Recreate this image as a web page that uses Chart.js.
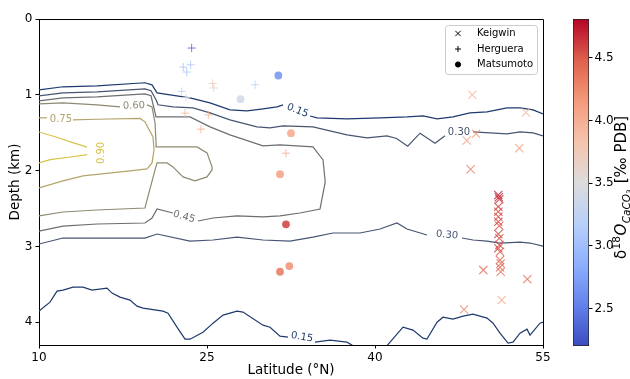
<!DOCTYPE html>
<html>
<head>
<meta charset="utf-8">
<script src="https://cdn.jsdelivr.net/npm/chart.js@4.4.1/dist/chart.umd.min.js"></script>
<style>
html,body{margin:0;padding:0;background:#fff;}
#wrap{position:relative;width:630px;height:379px;overflow:hidden;}
#main{position:absolute;left:0;top:0;width:630px;height:379px;}
#cbar{position:absolute;left:560px;top:0;width:70px;height:379px;}
</style>
</head>
<body>
<div id="wrap">
<canvas id="main" width="630" height="379"></canvas>
<canvas id="cbar" width="70" height="379"></canvas>
</div>
<script>
// ---------------- DATA ----------------
const latTicks = [10, 25, 40, 55];
const depthTicks = [0, 1, 2, 3, 4];
const cbarTicks = [2.5, 3.0, 3.5, 4.0, 4.5];
const d18oRange = [2.2, 4.81];

// Keigwin (x markers)
const keigwinLat   = [48.69, 53.48, 49.02, 48.19, 52.88, 48.54, 51.01, 51.05, 51.10, 51.01, 51.01, 51.01, 51.01, 51.10, 51.01, 51.10, 51.10, 51.01, 51.16, 51.16, 51.22, 51.16, 51.22, 49.67, 53.60, 51.31, 47.95];
const keigwinDepth = [1.00, 1.233, 1.515, 1.603, 1.704, 1.982, 2.321, 2.352, 2.378, 2.475, 2.541, 2.608, 2.674, 2.727, 2.836, 2.893, 2.982, 3.025, 3.070, 3.180, 3.224, 3.276, 3.334, 3.312, 3.431, 3.708, 3.831];
const keigwinD18O  = [3.95, 3.92, 4.15, 4.12, 4.15, 4.30, 4.72, 4.70, 4.65, 4.60, 4.55, 4.58, 4.60, 4.55, 4.60, 4.58, 4.55, 4.62, 4.50, 4.45, 4.42, 4.45, 4.40, 4.45, 4.42, 4.05, 4.25];

// Herguera (+ markers)
const hergueraLat   = [23.63, 22.88, 23.54, 23.19, 25.50, 25.60, 29.29, 22.74, 23.13, 23.04, 25.12, 24.46, 32.05];
const hergueraDepth = [0.383, 0.634, 0.604, 0.700, 0.850, 0.910, 0.867, 0.956, 1.035, 1.242, 1.264, 1.453, 1.770];
const hergueraD18O  = [2.35, 3.05, 3.10, 3.05, 3.70, 3.65, 3.20, 3.20, 3.45, 3.95, 3.95, 4.00, 4.00];

// Matsumoto (circles)
const matsumotoLat   = [31.37, 28.00, 32.50, 31.52, 32.05, 32.35, 31.52];
const matsumotoDepth = [0.745, 1.057, 1.506, 2.048, 2.708, 3.259, 3.334];
const matsumotoD18O  = [2.65, 3.40, 4.05, 4.10, 4.60, 4.20, 4.35];

// Contour lines [latitude, depth]
const c015TopA = [[10.0,0.934],[12.14,0.894],[15.18,0.881],[19.46,0.841],[20.09,0.868],[20.54,0.974],[21.70,1.000],[23.48,1.040],[25.27,1.106],[27.05,1.198],[28.57,1.211],[30.0,1.185],[31.25,1.159],[31.79,1.132]];
const c015TopB = [[34.20,1.279],[34.82,1.304],[37.50,1.317],[40.45,1.304],[42.86,1.291],[44.29,1.277],[45.54,1.317],[46.96,1.291],[48.48,1.238],[50.0,1.225],[51.79,1.172],[52.95,1.172],[54.11,1.198],[55.0,1.251]];
const c030TopA = [[10.0,1.013],[12.14,0.974],[15.18,0.960],[19.46,0.921],[20.0,0.947],[20.45,1.066],[20.63,1.132],[21.96,1.159],[23.75,1.172],[25.27,1.238],[27.05,1.330],[29.46,1.423],[30.63,1.436],[31.79,1.410],[34.46,1.423],[37.50,1.528],[39.29,1.568],[41.07,1.541],[41.93,1.576],[42.92,1.678],[44.02,1.506],[45.36,1.638],[46.25,1.541]];
const c030TopB = [[48.75,1.488],[50.27,1.502],[51.79,1.515],[52.95,1.488],[54.11,1.502],[55.0,1.541]];
const c045A = [[10.0,1.080],[12.14,1.040],[15.18,1.026],[19.46,0.987],[20.0,1.013],[20.45,1.291],[21.96,1.291],[23.48,1.291],[25.27,1.423],[27.05,1.528],[30.0,1.674],[31.52,1.660],[34.46,1.687],[35.36,1.859],[35.54,2.123],[35.54,2.162],[35.09,2.506],[33.30,2.559],[31.52,2.598],[30.0,2.611],[27.68,2.598],[25.54,2.625],[24.20,2.664]];
const c045B = [[21.96,2.559],[20.54,2.506],[20.09,2.625],[19.46,2.691],[15.18,2.704],[12.14,2.731],[10.0,2.797]];
const c060A = [[10.0,1.119],[12.14,1.106],[15.18,1.132],[17.23,1.159]];
const c060B = [[19.64,1.132],[20.09,1.159],[20.36,1.370],[20.45,1.634],[20.45,1.687],[21.96,1.687],[24.11,1.687],[25.0,1.766],[25.45,1.951],[25.45,1.991],[25.0,2.083],[23.93,2.136],[22.86,2.083],[21.96,1.951],[21.43,1.898],[20.54,1.898],[20.36,1.991],[19.46,2.493],[15.18,2.519],[12.14,2.546],[10.0,2.598]];
const c075A = [[10.0,1.303],[10.71,1.303]];
const c075B = [[13.04,1.330],[15.18,1.322],[19.02,1.312],[19.46,1.357],[20.18,1.555],[20.27,1.727],[20.09,1.898],[19.64,1.978],[18.13,2.004],[13.93,2.070],[12.14,2.136],[10.0,2.229]];
const c090A = [[10.0,1.49],[11.6,1.56],[12.8,1.62],[14.3,1.69]];
const c090B = [[14.3,1.79],[12.8,1.82],[11.0,1.855],[10.0,1.898]];
const c030BotA = [[10.0,2.968],[12.14,2.889],[15.18,2.889],[19.46,2.889],[20.54,2.836],[23.48,2.929],[25.54,2.915],[27.68,2.876],[30.0,2.915],[32.41,2.929],[34.46,2.876],[36.25,2.823],[38.66,2.823],[40.45,2.770],[41.96,2.691],[42.86,2.770],[44.64,2.849]];
const c030BotB = [[47.77,2.889],[48.75,2.915],[50.0,2.929],[51.16,2.955],[52.95,2.942],[53.84,2.955],[55.0,2.995]];
const c015BotA = [[10.0,3.853],[10.98,3.734],[11.61,3.589],[12.14,3.576],[13.04,3.536],[13.93,3.536],[14.73,3.576],[16.07,3.549],[16.52,3.615],[17.23,3.668],[18.13,3.708],[18.75,3.787],[19.29,3.814],[21.07,3.853],[21.52,3.880],[22.32,4.065],[23.04,4.223],[23.48,4.223],[24.64,4.131],[25.54,4.012],[26.43,3.906],[27.68,3.853],[28.21,3.866],[30.0,4.038],[30.63,4.065],[31.52,4.183],[32.23,4.197]];
const c015BotB = [[34.64,4.263],[35.98,4.237],[37.50,4.263],[38.39,4.34]];
const c015BotC = [[40.89,4.34],[42.5,4.065],[43.39,4.104],[44.29,4.210],[44.64,4.223],[45.54,3.999],[46.07,3.933],[46.96,3.959],[47.86,3.919],[48.75,3.893],[50.0,3.946],[50.54,4.012],[51.16,4.144],[51.88,4.276],[52.32,4.263],[52.95,4.144],[53.57,4.091],[53.84,4.170],[54.73,4.012],[55.0,3.999]];

const contourLevels = [0.15, 0.30, 0.45, 0.60, 0.75, 0.90];
const contourSegments = [
  [0.15, c015TopA], [0.15, c015TopB], [0.15, c015BotA], [0.15, c015BotB], [0.15, c015BotC],
  [0.30, c030TopA], [0.30, c030TopB], [0.30, c030BotA], [0.30, c030BotB],
  [0.45, c045A], [0.45, c045B],
  [0.60, c060A], [0.60, c060B],
  [0.75, c075A], [0.75, c075B],
  [0.90, c090A], [0.90, c090B]
];
// inline contour labels: [level, latitude, depth, angle]
const contourLabels = [
  [0.15, 33.08, 1.209, 22],
  [0.30, 47.50, 1.490, 0],
  [0.60, 18.48, 1.146, -2],
  [0.75, 11.96, 1.330, 0],
  [0.90, 15.54, 1.767, -90],
  [0.45, 22.95, 2.611, 16],
  [0.30, 46.43, 2.849, 5],
  [0.15, 33.48, 4.197, 10]
];

// ---------------- STYLE ----------------
const FONT = "'DejaVu Sans', 'Liberation Sans', sans-serif";
Chart.defaults.font.family = FONT;
Chart.defaults.color = '#000';

const levelColors = {0.15:'#1f3a6e', 0.30:'#475572', 0.45:'#6d6e70', 0.60:'#8f8a72', 0.75:'#b3a56a', 0.90:'#d9c24a'};

const cwStops = [[59,76,192],[98,130,234],[141,176,254],[184,208,249],[221,220,220],[245,196,173],[244,154,123],[222,96,77],[180,4,38]];
function coolwarmRGB(t){
  t = Math.max(0, Math.min(1, t));
  const s = t * (cwStops.length - 1);
  const i = Math.min(cwStops.length - 2, Math.floor(s));
  const f = s - i;
  const a = cwStops[i], b = cwStops[i+1];
  return [0,1,2].map(k => Math.round(a[k] + (b[k]-a[k]) * f));
}
function d18oColor(v, alpha){
  const t = (v - d18oRange[0]) / (d18oRange[1] - d18oRange[0]);
  const c = coolwarmRGB(t);
  return `rgba(${c[0]},${c[1]},${c[2]},${alpha})`;
}

const datasets = [];
datasets.push({
  label: 'Keigwin',
  data: keigwinLat.map((x,i)=>({x, y: keigwinDepth[i]})),
  pointStyle: 'crossRot', pointRadius: 5.8, pointBorderWidth: 1.1,
  borderColor: keigwinD18O.map(v=>d18oColor(v,0.8)),
  backgroundColor: 'rgba(0,0,0,0)',
  showLine: false, order: 1
});
datasets.push({
  label: 'Herguera',
  data: hergueraLat.map((x,i)=>({x, y: hergueraDepth[i]})),
  pointStyle: 'cross', pointRadius: 4.1, pointBorderWidth: 1.0,
  borderColor: hergueraD18O.map(v=>d18oColor(v,0.8)),
  backgroundColor: 'rgba(0,0,0,0)',
  showLine: false, order: 1
});
datasets.push({
  label: 'Matsumoto',
  data: matsumotoLat.map((x,i)=>({x, y: matsumotoDepth[i]})),
  pointStyle: 'circle', pointRadius: 3.9, pointBorderWidth: 0, borderWidth: 0,
  backgroundColor: matsumotoD18O.map(v=>d18oColor(v,0.85)),
  borderColor: 'rgba(0,0,0,0)',
  showLine: false, order: 1
});
contourSegments.forEach(([lev, seg]) => {
  datasets.push({
    label: 'c' + lev,
    data: seg.map(p=>({x:p[0], y:p[1]})),
    showLine: true, borderColor: levelColors[lev], borderWidth: 1.2,
    pointRadius: 0, fill: false, tension: 0, order: 2
  });
});

function alignPx(v){ return Math.round(v - 0.5) + 0.5; }

const framePlugin = {
  id: 'frame',
  afterDraw(chart){
    const {ctx, chartArea: ca} = chart;
    ctx.save();
    ctx.strokeStyle = '#000'; ctx.lineWidth = 1;
    ctx.beginPath();
    ctx.moveTo(alignPx(ca.left), alignPx(ca.top));
    ctx.lineTo(alignPx(ca.right), alignPx(ca.top));
    ctx.lineTo(alignPx(ca.right), alignPx(ca.bottom));
    ctx.stroke();
    ctx.restore();
  }
};

const contourLabelPlugin = {
  id: 'contourLabels',
  afterDatasetsDraw(chart){
    const {ctx, scales:{x, y}} = chart;
    ctx.save();
    ctx.font = `10px ${FONT}`;
    ctx.textAlign = 'center'; ctx.textBaseline = 'middle';
    contourLabels.forEach(([lev, lat, dep, ang]) => {
      ctx.save();
      ctx.translate(x.getPixelForValue(lat), y.getPixelForValue(dep));
      ctx.rotate(ang * Math.PI / 180);
      ctx.fillStyle = levelColors[lev];
      ctx.fillText(lev.toFixed(2), 0, 0);
      ctx.restore();
    });
    ctx.restore();
  }
};

const legendPlugin = {
  id: 'inlineLegend',
  afterDraw(chart){
    const {ctx, chartArea: ca} = chart;
    const w = 92, h = 49;
    const x0 = ca.right - 6 - w, y0 = ca.top + 6;
    ctx.save();
    ctx.beginPath();
    if (ctx.roundRect) ctx.roundRect(x0 + 0.5, y0 + 0.5, w, h, 3); else ctx.rect(x0+0.5, y0+0.5, w, h);
    ctx.fillStyle = 'rgba(255,255,255,0.8)';
    ctx.fill();
    ctx.strokeStyle = '#cccccc'; ctx.lineWidth = 1;
    ctx.stroke();
    const entries = [['Keigwin','crossRot',3.8],['Herguera','cross',3.0],['Matsumoto','circle',2.6]];
    ctx.font = `10px ${FONT}`;
    ctx.textBaseline = 'middle'; ctx.textAlign = 'left';
    entries.forEach(([name, style, r], i) => {
      const yy = y0 + 8.5 + i * 15.5;
      ctx.fillStyle = '#000'; ctx.strokeStyle = '#000'; ctx.lineWidth = 1;
      Chart.helpers.drawPoint(ctx, {pointStyle: style, radius: r, rotation: 0, borderWidth: 1}, x0 + 13, yy);
      ctx.fillStyle = '#000';
      ctx.fillText(name, x0 + 32, yy);
    });
    ctx.restore();
  }
};

const gridOpts = {display: true, drawOnChartArea: false, drawTicks: true, tickLength: 3.5, color: '#000', lineWidth: 1};

new Chart(document.getElementById('main'), {
  type: 'scatter',
  data: {datasets},
  options: {
    responsive: false, animation: false, events: [],
    layout: {padding: {left: 0, right: 87, top: 19, bottom: 0}},
    plugins: {legend: {display: false}, tooltip: {enabled: false}},
    scales: {
      x: {
        type: 'linear', min: latTicks[0], max: latTicks[latTicks.length-1],
        afterBuildTicks: s => { s.ticks = latTicks.map(v=>({value: v})); },
        afterFit: s => { s.height = 34; },
        ticks: {font: {size: 12}, padding: 2, maxRotation: 0, color: '#000'},
        grid: gridOpts,
        border: {display: true, color: '#000', width: 1},
        title: {display: true, text: 'Latitude (°N)', font: {size: 13.5}, color: '#000', padding: {top: 0, bottom: 0}}
      },
      y: {
        type: 'linear', reverse: true, min: 0, max: 4.3,
        afterBuildTicks: s => { s.ticks = depthTicks.map(v=>({value: v})); },
        afterFit: s => { s.width = 39; },
        ticks: {font: {size: 12}, padding: 3, color: '#000', callback: v => String(v)},
        grid: gridOpts,
        border: {display: true, color: '#000', width: 1},
        title: {display: true, text: 'Depth (km)', font: {size: 13.5}, color: '#000', padding: {top: 7, bottom: 0}}
      }
    }
  },
  plugins: [contourLabelPlugin, framePlugin, legendPlugin]
});

// ---------------- COLORBAR ----------------
const cbarTitlePlugin = {
  id: 'cbarTitle',
  afterDraw(chart){
    const {ctx, chartArea: ca} = chart;
    const pieces = [
      {t: 'δ', size: 15, dy: 0, it: false, gap: 0.5},
      {t: '18', size: 10.5, dy: -6.5, it: false, gap: 0.5},
      {t: 'O', size: 15, dy: 0, it: true, gap: 0.5},
      {t: 'CaCO', size: 10.5, dy: 3.5, it: true, gap: 0},
      {t: '3', size: 7.5, dy: 6, it: false, gap: 1},
      {t: ' [‰ PDB]', size: 15, dy: 0, it: false, gap: 0}
    ];
    ctx.save();
    let total = 0;
    pieces.forEach(p => { ctx.font = `${p.it?'italic ':''}${p.size}px ${FONT}`; p.w = ctx.measureText(p.t).width + p.gap; total += p.w; });
    const cx = 60.5, cy = (ca.top + ca.bottom) / 2 + 5;
    ctx.translate(cx, cy);
    ctx.rotate(-Math.PI / 2);
    ctx.fillStyle = '#000';
    ctx.textBaseline = 'alphabetic'; ctx.textAlign = 'left';
    let xx = -total / 2;
    pieces.forEach(p => {
      ctx.font = `${p.it?'italic ':''}${p.size}px ${FONT}`;
      ctx.fillText(p.t, xx, 5.5 + p.dy);
      xx += p.w;
    });
    ctx.restore();
  }
};

new Chart(document.getElementById('cbar'), {
  type: 'bar',
  data: {
    labels: [''],
    datasets: [{
      data: [[d18oRange[0], d18oRange[1]]],
      backgroundColor: (c) => {
        const ca = c.chart.chartArea;
        if (!ca) return '#ccc';
        const g = c.chart.ctx.createLinearGradient(0, ca.bottom, 0, ca.top);
        cwStops.forEach((s, i) => g.addColorStop(i / (cwStops.length - 1), `rgb(${s[0]},${s[1]},${s[2]})`));
        return g;
      },
      borderColor: '#222', borderWidth: 1, borderSkipped: false,
      barPercentage: 1, categoryPercentage: 1
    }]
  },
  options: {
    responsive: false, animation: false, events: [],
    layout: {padding: {left: 13, right: 0, top: 19, bottom: 33}},
    plugins: {legend: {display: false}, tooltip: {enabled: false}},
    scales: {
      x: {display: false},
      y: {
        position: 'right', min: d18oRange[0], max: d18oRange[1],
        afterBuildTicks: s => { s.ticks = cbarTicks.map(v=>({value: v})); },
        afterFit: s => { s.width = 41; },
        ticks: {font: {size: 12}, padding: 2, color: '#000', callback: v => Number(v).toFixed(1)},
        grid: {display: true, drawOnChartArea: false, drawTicks: true, tickLength: 3.5, color: '#000'},
        border: {display: false}
      }
    }
  },
  plugins: [cbarTitlePlugin]
});
</script>
</body>
</html>
